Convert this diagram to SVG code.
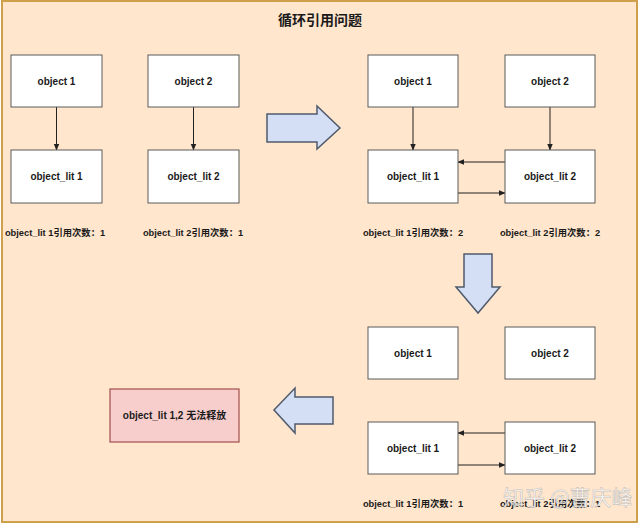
<svg xmlns="http://www.w3.org/2000/svg" width="640" height="526" viewBox="0 0 640 526">
<style>
.bg{fill:#ffe6cc;stroke:#cfa04a;stroke-width:2}
.box{fill:#ffffff;stroke:#5a5a5a;stroke-width:1}
.red{fill:#f8cecc;stroke:#a0504c;stroke-width:1.2}
.big{fill:#d4def5;stroke:#4f5b6c;stroke-width:1.5;stroke-linejoin:miter}
.t{font-family:"Liberation Sans","Noto Sans CJK SC",sans-serif;font-weight:bold;font-size:10px;fill:#1a1a1a;text-anchor:middle;dominant-baseline:central}
.lb{font-size:9.3px}
.title{font-family:"Noto Sans CJK SC",sans-serif;font-weight:bold;font-size:14px;fill:#1a1a1a;text-anchor:middle;dominant-baseline:central}
.c{stroke:#222;stroke-width:1;fill:none;marker-end:url(#ah)}
.wm{font-family:"Noto Sans CJK SC",sans-serif;font-size:21px;fill:#ffffff;fill-opacity:0.8;stroke:#a8a8a8;stroke-width:0.6;stroke-opacity:0.7}
</style>
<defs>
<marker id="ah" viewBox="0 0 10 10" refX="9" refY="5" markerWidth="7" markerHeight="7" orient="auto" markerUnits="userSpaceOnUse">
<path d="M0,1 L10,5 L0,9 Z" fill="#222"/>
</marker>
</defs>
<rect class="bg" x="2" y="1" width="635" height="521"/>
<text class="title" x="320" y="19">循环引用问题</text>

<g id="connectors">
<line class="c" x1="56.5" y1="107" x2="56.5" y2="150"/>
<line class="c" x1="193.5" y1="107" x2="193.5" y2="150"/>
<line class="c" x1="413" y1="107" x2="413" y2="150"/>
<line class="c" x1="550" y1="107" x2="550" y2="150"/>
<line class="c" x1="505" y1="162" x2="458" y2="162"/>
<line class="c" x1="458" y1="193" x2="505" y2="193"/>
<line class="c" x1="505" y1="433" x2="458" y2="433"/>
<line class="c" x1="458" y1="465" x2="505" y2="465"/>
</g>

<g id="stage1-object1"><rect class="box" x="11" y="55" width="91" height="52"/><text class="t" x="56.5" y="81">object 1</text></g>
<g id="stage1-object2"><rect class="box" x="148" y="55" width="91" height="52"/><text class="t" x="193.5" y="81">object 2</text></g>
<g id="stage1-lit1"><rect class="box" x="11" y="150" width="91" height="53"/><text class="t" x="56.5" y="176.5">object_lit 1</text></g>
<g id="stage1-lit2"><rect class="box" x="148" y="150" width="91" height="53"/><text class="t" x="193.5" y="176.5">object_lit 2</text></g>
<g id="stage1-labels">
<text class="t lb" x="55" y="233">object_lit 1引用次数：1</text>
<text class="t lb" x="193" y="233">object_lit 2引用次数：1</text>
</g>

<g id="arrow-right"><path class="big" d="M267,114 L317,114 L317,106 L340,128 L317,149 L317,142 L267,142 Z"/></g>

<g id="stage2-object1"><rect class="box" x="368" y="55" width="90" height="52"/><text class="t" x="413" y="81">object 1</text></g>
<g id="stage2-object2"><rect class="box" x="505" y="55" width="90" height="52"/><text class="t" x="550" y="81">object 2</text></g>
<g id="stage2-lit1"><rect class="box" x="368" y="150" width="90" height="53"/><text class="t" x="413" y="176.5">object_lit 1</text></g>
<g id="stage2-lit2"><rect class="box" x="505" y="150" width="90" height="53"/><text class="t" x="550" y="176.5">object_lit 2</text></g>
<g id="stage2-labels">
<text class="t lb" x="413" y="233">object_lit 1引用次数：2</text>
<text class="t lb" x="550" y="233">object_lit 2引用次数：2</text>
</g>

<g id="arrow-down"><path class="big" d="M464,254 L492,254 L492,287 L500,287 L478,313 L456,287 L464,287 Z"/></g>

<g id="stage3-object1"><rect class="box" x="368" y="327" width="90" height="52"/><text class="t" x="413" y="353">object 1</text></g>
<g id="stage3-object2"><rect class="box" x="505" y="327" width="90" height="52"/><text class="t" x="550" y="353">object 2</text></g>
<g id="stage3-lit1"><rect class="box" x="368" y="422" width="90" height="52"/><text class="t" x="413" y="448">object_lit 1</text></g>
<g id="stage3-lit2"><rect class="box" x="505" y="422" width="90" height="52"/><text class="t" x="550" y="448">object_lit 2</text></g>
<g id="stage3-labels">
<text class="t lb" x="413" y="504">object_lit 1引用次数：1</text>
<text class="t lb" x="550" y="504">object_lit 2引用次数：1</text>
</g>

<g id="arrow-left"><path class="big" d="M333,397 L295,397 L295,388 L274,410 L295,433 L295,424 L333,424 Z"/></g>

<g id="result"><rect class="red" x="110" y="389" width="129" height="53"/><text class="t" x="174.5" y="415.5">object_lit 1,2 无法释放</text></g>

<text class="wm" x="503" y="505">知乎 @曹庆峰</text>
</svg>
